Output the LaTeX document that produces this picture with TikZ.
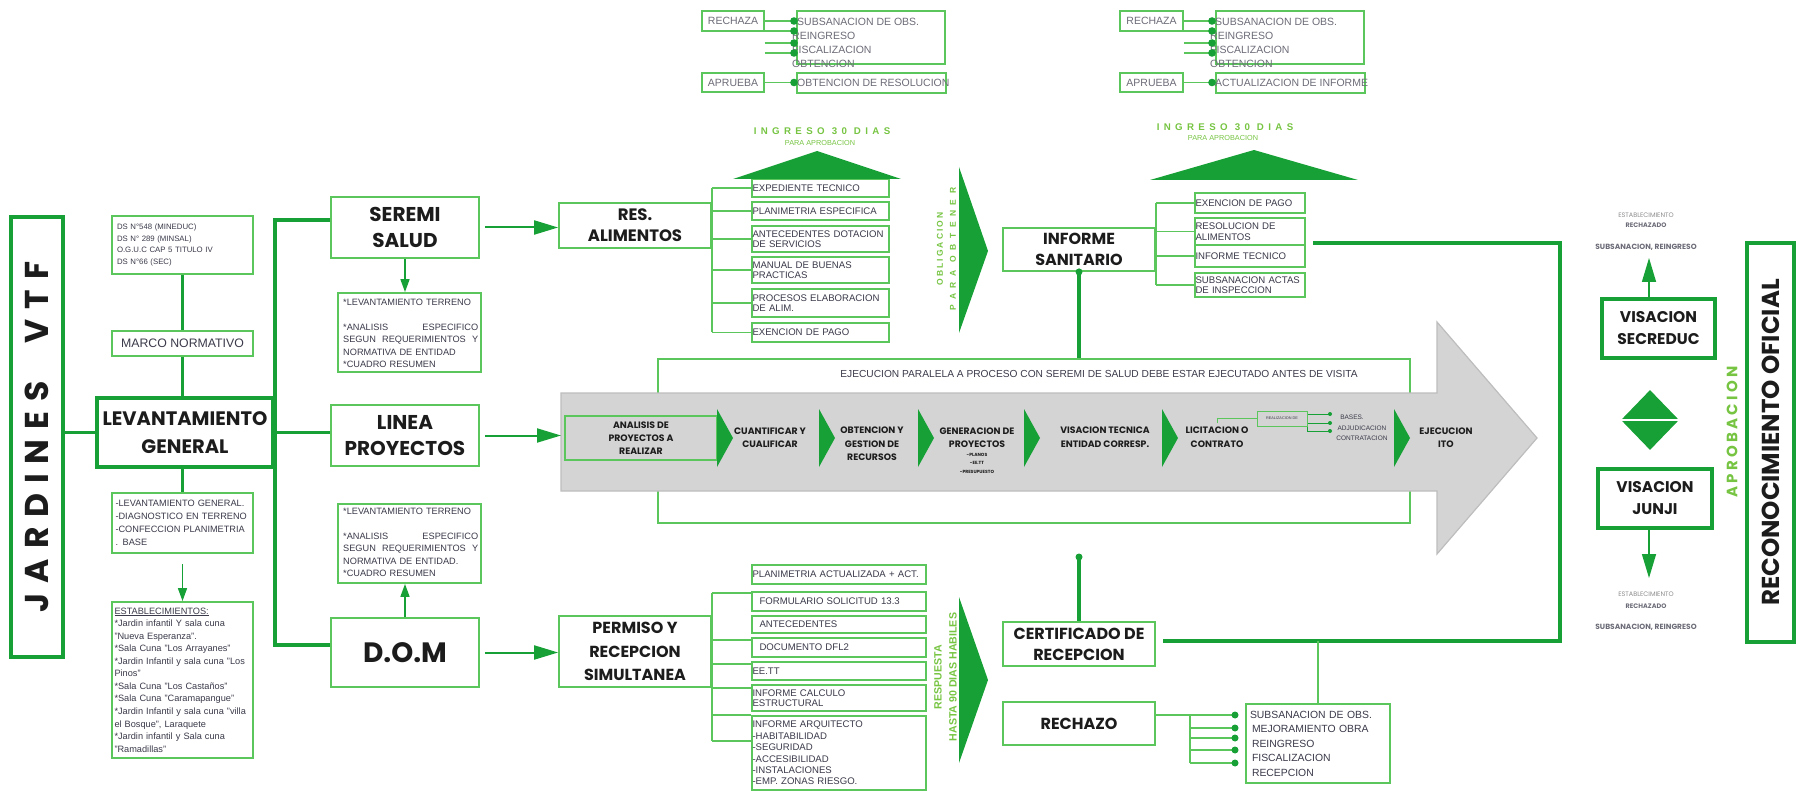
\documentclass[tikz,border=0pt]{standalone}
\usepackage{fontspec}
\setmainfont{Liberation Sans}
\newfontfamily\gothic{Poppins}
\newfontfamily\gothicwide{Poppins}[LetterSpace=22]
\newfontfamily\gothicspaced{Poppins}[LetterSpace=30]
\newfontfamily\spreadA{Liberation Sans}[LetterSpace=25]
\newfontfamily\spreadB{Liberation Sans}[LetterSpace=45]
\newfontfamily\spreadC{Liberation Sans}[LetterSpace=65]
\usetikzlibrary{arrows.meta,shapes.geometric}
\definecolor{Green}{HTML}{5BC65B}
\definecolor{Dark}{HTML}{16A035}
\definecolor{Lime}{HTML}{76C442}
\definecolor{Ink}{HTML}{1C1C1C}
\definecolor{Txt}{HTML}{3A3A4A}
\definecolor{TopTxt}{HTML}{6C6C78}
\definecolor{Gray}{HTML}{8C8C8C}
\definecolor{ArrowFill}{HTML}{D4D4D4}
\definecolor{ArrowEdge}{HTML}{BDBDBD}
\tikzset{box/.style={draw=Green,line width=1.8pt,fill=white,inner sep=0pt,align=center},
  heavy/.style={box,draw=Dark,line width=4pt},
  heading/.style 2 args={font={\gothic\bfseries\fontsize{#1}{#2}\selectfont},text=Ink},
  list/.style={box,line width=1.4pt,align=left,inner xsep=0.5pt,font=\fontsize{9.6}{10.6}\selectfont,text=Txt},
  note/.style={font=\fontsize{9.2}{12.5}\selectfont,text=Txt,align=left,inner sep=0pt},
  toptext/.style={font=\fontsize{10.5}{14}\selectfont,text=TopTxt},
  steptext/.style={font=\gothic\bfseries\fontsize{9.3}{13.5}\selectfont,text=Ink,align=center},
  sidetext/.style={font=\gothic\fontsize{6.5}{7}\selectfont,text=Gray},
  bus/.style={draw=Dark,line width=3.5pt},
  tick/.style={draw=Green,line width=1.5pt},
  flow/.style={draw=Dark,line width=2pt,-{Triangle[length=24pt,width=14pt]}},
  flowsmall/.style={draw=Dark,line width=1.6pt,-{Triangle[length=13pt,width=9pt]}}}
\begin{document}
\begin{tikzpicture}[x=1pt,y=-1pt]
  \useasboundingbox (0,0) rectangle (1796,791);
  % left column
  \node[heavy,minimum width=52pt,minimum height=440pt] (jard) at (37,437) {};
  \node[rotate=90,font=\gothicspaced\bfseries\fontsize{33}{33}\selectfont,text=Ink] (jardtxt) at (jard) {JARDINES\hspace{38pt}VTF};
  \node[box,minimum width=141pt,minimum height=58pt,text width=131pt,align=left,font=\fontsize{7.8}{11.4}\selectfont,text=Txt] (ds) at (182.5,245) {DS N°548 (MINEDUC)\\DS N° 289 (MINSAL)\\O.G.U.C CAP 5 TITULO IV\\DS N°66 (SEC)};
  \node[box,minimum width=141pt,minimum height=25pt,font=\fontsize{12.3}{13}\selectfont,text=Txt] (marco) at (182.5,343.5) {MARCO NORMATIVO};
  \node[heavy,minimum width=176pt,minimum height=69pt,heading={19.5}{28}] (lev) at (185,432.5) {LEVANTAMIENTO\\GENERAL};
  \node[box,minimum width=141pt,minimum height=60pt,text width=134pt,align=left,font=\fontsize{9.2}{13}\selectfont,text=Txt] (levlist) at (182.5,523) {-LEVANTAMIENTO GENERAL.\\-DIAGNOSTICO EN TERRENO\\-CONFECCION PLANIMETRIA\\. BASE};
  \node[box,minimum width=141pt,minimum height=156pt,text width=136pt,align=left,font=\fontsize{9.2}{12.55}\selectfont,text=Txt] (estab) at (182.5,680) {\underline{ESTABLECIMIENTOS:}\\{}*Jardin infantil Y sala cuna\\"Nueva Esperanza".\\{}*Sala Cuna "Los Arrayanes"\\{}*Jardin Infantil y sala cuna "Los\\Pinos"\\{}*Sala Cuna "Los Castaños"\\{}*Sala Cuna "Caramapangue"\\{}*Jardin Infantil y sala cuna "villa\\el Bosque", Laraquete\\{}*Jardin infantil y Sala cuna\\"Ramadillas"};
  \draw[bus] (jard.east |- lev.west) -- (lev.west);
  \draw[bus] (ds.south) -- (marco.north);
  \draw[bus] (marco.south) -- (marco.south |- lev.north);
  \draw[bus] (lev.south -| levlist.north) -- (levlist.north);
  \draw[flowsmall] ([yshift=-10pt]levlist.south) -- (estab.north);
  % three lines
  \node[box,minimum width=148pt,minimum height=61pt,heading={20}{26}] (seremi) at (405,227.5) {SEREMI\\SALUD};
  \node[box,minimum width=148pt,minimum height=61pt,heading={20}{26}] (linea) at (405,435.5) {LINEA\\PROYECTOS};
  \node[box,minimum width=148pt,minimum height=69pt,heading={28}{30}] (dom) at (405,652.5) {D.O.M};
  \coordinate (busT) at (275,220);
  \coordinate (busB) at (275,645);
  \draw[bus] (seremi.west |- busT) -- (busT) -- (busB) -- (dom.west |- busB);
  \draw[bus] (lev.east) -- (linea.west |- lev.east);
  \node[box,minimum width=143pt,minimum height=79pt] (terr1) at (409.5,332.5) {};
  \node[note,anchor=north west,text width=135pt] (terr1txt) at (343,299.3) {*LEVANTAMIENTO TERRENO\\[12pt]\makebox[135pt]{*ANALISIS\hfill ESPECIFICO}\\\makebox[135pt]{SEGUN\hfill REQUERIMIENTOS\hfill Y}\\NORMATIVA DE ENTIDAD\\{}*CUADRO RESUMEN};
  \node[box,minimum width=143pt,minimum height=79pt] (terr2) at (409.5,543.5) {};
  \node[note,anchor=north west,text width=135pt] (terr2txt) at (343,508.3) {*LEVANTAMIENTO TERRENO\\[12pt]\makebox[135pt]{*ANALISIS\hfill ESPECIFICO}\\\makebox[135pt]{SEGUN\hfill REQUERIMIENTOS\hfill Y}\\NORMATIVA DE ENTIDAD.\\{}*CUADRO RESUMEN};
  \draw[flowsmall] (seremi.south) -- (seremi.south |- terr1.north);
  \draw[flowsmall] (dom.north) -- (dom.north |- terr2.south);
  \node[box,minimum width=152pt,minimum height=45pt,heading={16.5}{21}] (res) at (635,225.5) {RES.\\ALIMENTOS};
  \node[box,minimum width=152pt,minimum height=71pt,heading={16}{23.5}] (permiso) at (635,651.5) {PERMISO Y\\RECEPCION\\SIMULTANEA};
  \draw[flow] ([xshift=5pt]seremi.east) -- (res.west |- seremi.east);
  \draw[flow] ([xshift=5pt]dom.east) -- (permiso.west |- dom.east);
  % requirements of seremi
  \node[list,text width=136pt,minimum height=18pt] (sa1) at (820.5,188) {EXPEDIENTE TECNICO};
  \node[list,text width=136pt,minimum height=18pt] (sa2) at (820.5,211) {PLANIMETRIA ESPECIFICA};
  \node[list,text width=136pt,minimum height=26pt] (sa3) at (820.5,239) {ANTECEDENTES DOTACION\\DE SERVICIOS};
  \node[list,text width=136pt,minimum height=26pt] (sa4) at (820.5,270) {MANUAL DE BUENAS\\PRACTICAS};
  \node[list,text width=136pt,minimum height=28pt] (sa5) at (820.5,303) {PROCESOS ELABORACION\\DE ALIM.};
  \node[list,text width=136pt,minimum height=19pt] (sa6) at (820.5,332.5) {EXENCION DE PAGO};
  \draw[tick] (res.east |- sa1.west) -- (res.east |- sa6.west);
  \foreach \i in {1,...,6} \draw[tick] (res.east |- sa\i.west) -- (sa\i.west);
  \fill[Dark] (733,179) -- (817,151) -- (901,179) -- cycle;
  \node[font=\spreadB\bfseries\fontsize{9.7}{10}\selectfont,text=Lime] (ingA) at (822,131) {INGRESO 30 DIAS};
  \node[font=\fontsize{7.3}{8}\selectfont,text=Lime] (paraA) at (820,142.5) {PARA APROBACION};
  % requirements of dom
  \node[list,text width=173pt,minimum height=19pt] (pm0) at (839,574.5) {PLANIMETRIA ACTUALIZADA + ACT.};
  \node[list,text width=173pt,minimum height=19pt] (pm1) at (839,601.5) {\hspace{7pt}FORMULARIO SOLICITUD 13.3};
  \node[list,text width=173pt,minimum height=17pt] (pm2) at (839,624.5) {\hspace{7pt}ANTECEDENTES};
  \node[list,text width=173pt,minimum height=19pt] (pm3) at (839,647.5) {\hspace{7pt}DOCUMENTO DFL2};
  \node[list,text width=173pt,minimum height=18pt] (pm4) at (839,671) {EE.TT};
  \node[list,text width=173pt,minimum height=26pt] (pm5) at (839,698) {INFORME CALCULO\\ESTRUCTURAL};
  \node[list,text width=173pt,minimum height=74pt,font=\fontsize{9.6}{11.4}\selectfont] (pm6) at (839,753) {INFORME ARQUITECTO\\-HABITABILIDAD\\-SEGURIDAD\\-ACCESIBILIDAD\\-INSTALACIONES\\-EMP. ZONAS RIESGO.};
  \draw[tick] (permiso.east |- 0,593) -- (permiso.east |- 0,741);
  \foreach \y in {593,640,664,688,715,741} \draw[tick] (permiso.east |- 0,\y) -- (pm0.west |- 0,\y);
  % green pointers
  \fill[Dark] (959,167) -- (988,251) -- (959,333) -- cycle;
  \node[rotate=90,font=\spreadA\bfseries\fontsize{8.5}{9}\selectfont,text=Lime] (oblig) at (940,249) {OBLIGACION};
  \node[rotate=90,font=\spreadC\bfseries\fontsize{8.5}{9}\selectfont,text=Lime] (paraob) at (953,249) {PARA OBTENER};
  \fill[Dark] (959,597) -- (988,680) -- (959,763) -- cycle;
  \node[rotate=90,font=\bfseries\fontsize{10.6}{11}\selectfont,text=Lime] (resp) at (938,677) {RESPUESTA};
  \node[rotate=90,font=\bfseries\fontsize{10.6}{11}\selectfont,text=Lime] (hasta) at (953,677) {HASTA 90 DIAS HABILES};
  % informe sanitario
  \node[box,minimum width=152pt,minimum height=43pt,heading={16}{21}] (infsan) at (1079,249.5) {INFORME\\SANITARIO};
  \node[list,text width=109pt,minimum height=20pt] (si1) at (1250,203) {EXENCION DE PAGO};
  \node[list,text width=109pt,minimum height=27pt] (si2) at (1250,231.5) {RESOLUCION DE\\ALIMENTOS};
  \node[list,text width=109pt,minimum height=22pt] (si3) at (1250,256) {INFORME TECNICO};
  \node[list,text width=109pt,minimum height=24pt] (si4) at (1250,285) {SUBSANACION ACTAS\\DE INSPECCION};
  \draw[tick] (infsan.east |- si1.west) -- (infsan.east |- si4.west);
  \foreach \i in {1,...,4} \draw[tick] (infsan.east |- si\i.west) -- (si\i.west);
  \fill[Dark] (1150,180) -- (1254,150) -- (1358,180) -- cycle;
  \node[font=\spreadB\bfseries\fontsize{9.7}{10}\selectfont,text=Lime] (ingB) at (1225,127) {INGRESO 30 DIAS};
  \node[font=\fontsize{7.3}{8}\selectfont,text=Lime] (paraB) at (1223,138) {PARA APROBACION};
  % parallel execution and project line
  \node[box,line width=1.8pt,fill=none,minimum width=752pt,minimum height=164pt] (ejec) at (1034,441) {};
  \node[font=\fontsize{10.2}{12}\selectfont,text=Txt] (ejectxt) at (1099,374) {EJECUCION PARALELA A PROCESO CON SEREMI DE SALUD DEBE ESTAR EJECUTADO ANTES DE VISITA};
  \filldraw[fill=ArrowFill,draw=ArrowEdge,line width=1.2pt] (561,393) -- (1437,393) -- (1437,322) -- (1537,438) -- (1437,554) -- (1437,491) -- (561,491) -- cycle;
  \coordinate (bigtail) at (561,439);
  \draw[flow] ([xshift=5pt]linea.east) -- (bigtail |- linea.east);
  \node[box,fill=none,minimum width=152pt,minimum height=44pt,font=\gothic\bfseries\fontsize{9.3}{13}\selectfont,text=Ink] (analisis) at (641,438) {ANALISIS DE\\PROYECTOS A\\REALIZAR};
  \foreach \x in {717,819,918,1024,1162,1394} \fill[Dark] (\x,409) -- (\x+16,438) -- (\x,467) -- cycle;
  \node[steptext] (cuant) at (770,437.5) {CUANTIFICAR Y\\CUALIFICAR};
  \node[steptext] (obten) at (872,444) {OBTENCION Y\\GESTION DE\\RECURSOS};
  \node[steptext] (gener) at (977,437.5) {GENERACION DE\\PROYECTOS};
  \node[font=\gothic\bfseries\fontsize{4.5}{8.5}\selectfont,text=Ink,align=center] (genlist) at (977,463) {-PLANOS\\-EE.TT\\-PRESUPUESTO};
  \node[steptext] (visac) at (1105,437) {VISACION TECNICA\\ENTIDAD CORRESP.};
  \node[steptext] (licit) at (1217,437) {LICITACION O\\CONTRATO};
  \node[steptext] (ejecu) at (1446,437.5) {EJECUCION\\ITO};
  \node[draw=Green,line width=1pt,minimum width=50pt,minimum height=15pt,inner sep=0pt,font=\fontsize{3.8}{4}\selectfont,text=Txt] (realiz) at (1282,418.5) {REALIZACION DE};
  \draw[tick,line width=1pt] (licit.north) |- (realiz.west);
  \coordinate (bd1) at (1330,414);
  \coordinate (bd2) at (1330,423);
  \coordinate (bd3) at (1330,431);
  \draw[draw=Dark,line width=1pt] (realiz.east |- bd1) -- (bd1);
  \draw[draw=Dark,line width=1pt] (realiz.east |- bd2) -- (bd2);
  \draw[draw=Dark,line width=1pt] (realiz.south east) |- (bd3);
  \foreach \c in {bd1,bd2,bd3} \fill[Dark] (\c) circle (2pt);
  \node[font=\fontsize{6.5}{7}\selectfont,text=Txt] (bases) at (1352,417) {BASES.};
  \node[font=\fontsize{6.5}{7}\selectfont,text=Txt] (adjud) at (1362,428) {ADJUDICACION};
  \node[font=\fontsize{6.5}{7}\selectfont,text=Txt] (contr) at (1362,438) {CONTRATACION};
  \draw[bus] (infsan.south) -- (infsan.south |- ejec.north);
  \fill[Dark] (infsan.south) circle (3.5pt);
  % reception
  \node[box,minimum width=152pt,minimum height=44pt,heading={16}{21}] (cert) at (1079,644) {CERTIFICADO DE\\RECEPCION};
  \node[box,minimum width=152pt,minimum height=43pt,heading={16}{21}] (rech) at (1079,723.5) {RECHAZO};
  \coordinate (certdot) at (1079,557);
  \draw[bus] (certdot) -- (cert.north);
  \fill[Dark] (certdot) circle (3.5pt);
  \node[box,line width=1.4pt,minimum width=144pt,minimum height=79pt,text width=136pt,align=left,font=\fontsize{10.4}{14.5}\selectfont,text=Txt] (rlist) at (1318,743.5) {SUBSANACION DE OBS.\\\hspace{2pt}MEJORAMIENTO OBRA\\\hspace{2pt}REINGRESO\\\hspace{2pt}FISCALIZACION\\\hspace{2pt}RECEPCION};
  \draw[tick] (rech.east |- 0,715) -- (1190,715) -- (1190,763);
  \foreach \y in {715,728,738,750,763} {\draw[tick] (1190,\y) -- (1235,\y); \fill[Dark] (1235,\y) circle (3.5pt);}
  \coordinate (infout) at (1313,243);
  \coordinate (rbus) at (1560,641);
  \draw[bus] (infout) -| (rbus) -- ([xshift=7pt]cert.east |- rbus);
  \draw[tick] (rlist.north |- rbus) -- (rlist.north);
  % top approval blocks
  \node[box,line width=1.4pt,minimum width=62pt,minimum height=20pt,toptext] (rechA) at (733,21) {RECHAZA};
  \node[box,line width=1.4pt,minimum width=148pt,minimum height=53pt] (obsA) at (871,37.5) {};
  \node[box,line width=1.4pt,minimum width=62pt,minimum height=19pt,toptext] (aprA) at (733,82.5) {APRUEBA};
  \node[box,line width=1.4pt,minimum width=149pt,minimum height=20pt] (resA) at (871.5,83) {};
  \node[toptext,align=left,anchor=north west,inner sep=0pt] (obsAtxt) at (792,18.3) {\hspace{5pt}SUBSANACION DE OBS.\\REINGRESO\\FISCALIZACION\\OBTENCION};
  \node[toptext,anchor=west,inner sep=0pt] (resAtxt) at (797,83) {OBTENCION DE RESOLUCION};
  \foreach \y in {21,31,43,53} {\draw[tick] (rechA.east |- 0,\y) -- (794,\y); \fill[Dark] (794,\y) circle (3.8pt);}
  \draw[tick] (aprA.east) -- (794,82.5);
  \fill[Dark] (794,82.5) circle (3.8pt);
  \node[box,line width=1.4pt,minimum width=63pt,minimum height=20pt,toptext] (rechB) at (1151.5,21) {RECHAZA};
  \node[box,line width=1.4pt,minimum width=148pt,minimum height=53pt] (obsB) at (1290,37.5) {};
  \node[box,line width=1.4pt,minimum width=63pt,minimum height=19pt,toptext] (aprB) at (1151.5,82.5) {APRUEBA};
  \node[box,line width=1.4pt,minimum width=149pt,minimum height=20pt] (resB) at (1290.5,83) {};
  \node[toptext,align=left,anchor=north west,inner sep=0pt] (obsBtxt) at (1210,18.3) {\hspace{5pt}SUBSANACION DE OBS.\\REINGRESO\\FISCALIZACION\\OBTENCION};
  \node[toptext,anchor=west,inner sep=0pt] (resBtxt) at (1215,83) {ACTUALIZACION DE INFORME};
  \foreach \y in {21,31,43,53} {\draw[tick] (rechB.east |- 0,\y) -- (1212,\y); \fill[Dark] (1212,\y) circle (3.8pt);}
  \draw[tick] (aprB.east) -- (1212,82.5);
  \fill[Dark] (1212,82.5) circle (3.8pt);
  % official recognition
  \node[sidetext] (estA) at (1646,215) {ESTABLECIMIENTO};
  \node[sidetext,font=\gothic\bfseries\fontsize{6.5}{7}\selectfont,text=TopTxt] (rzA) at (1646,225) {RECHAZADO};
  \node[sidetext,font=\gothic\bfseries\fontsize{7.5}{8}\selectfont,text=TopTxt] (subA) at (1646,247) {SUBSANACION, REINGRESO};
  \node[heavy,minimum width=113pt,minimum height=59pt,heading={15.5}{22}] (secreduc) at (1658.5,328.5) {VISACION\\SECREDUC};
  \coordinate (upend) at (1649,258);
  \draw[flow,line width=1.5pt] (secreduc.north -| upend) -- (upend);
  \node[diamond,fill=Dark,minimum width=58pt,minimum height=60pt,inner sep=0pt] (choice) at (1650,420) {};
  \draw[white,line width=1.2pt] (choice.west) -- (choice.east);
  \node[heavy,minimum width=114pt,minimum height=59pt,heading={15.5}{22}] (junji) at (1655,498.5) {VISACION\\JUNJI};
  \coordinate (downend) at (1649,578);
  \draw[flow,line width=1.5pt] (junji.south -| downend) -- (downend);
  \node[sidetext] (estB) at (1646,594) {ESTABLECIMIENTO};
  \node[sidetext,font=\gothic\bfseries\fontsize{6.5}{7}\selectfont,text=TopTxt] (rzB) at (1646,606) {RECHAZADO};
  \node[sidetext,font=\gothic\bfseries\fontsize{7.5}{8}\selectfont,text=TopTxt] (subB) at (1646,627) {SUBSANACION, REINGRESO};
  \node[rotate=90,font=\gothicwide\bfseries\fontsize{15}{15}\selectfont,text=Lime] (aprob) at (1732,432) {APROBACION};
  \node[heavy,minimum width=47pt,minimum height=399pt] (recon) at (1770.5,442.5) {};
  \node[rotate=90,heading={24.5}{25}] (recontxt) at (recon) {RECONOCIMIENTO OFICIAL};
\end{tikzpicture}
\end{document}
